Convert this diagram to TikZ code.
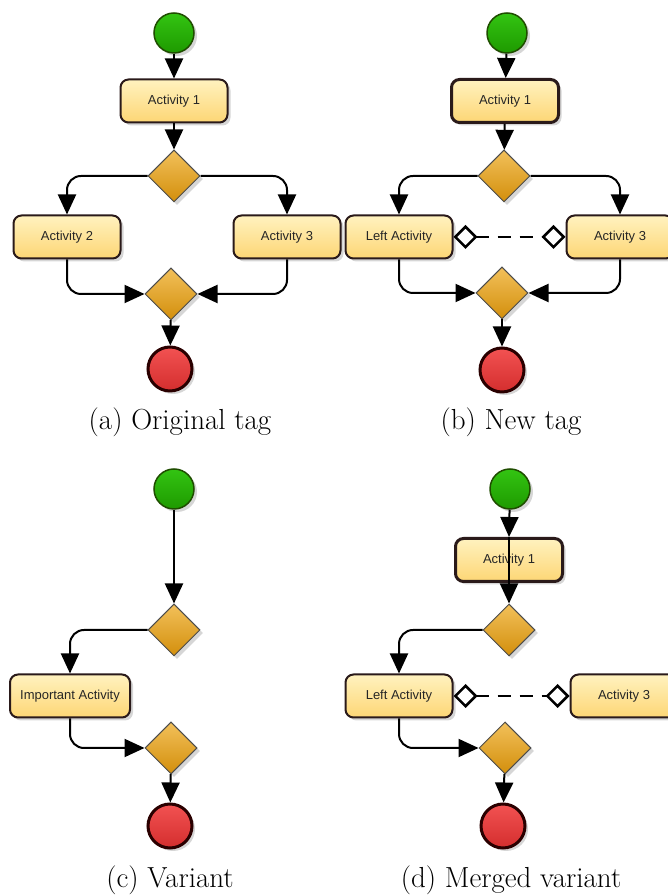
\documentclass[tikz,border=0pt]{standalone}
\usepackage{fontspec}
\newfontfamily\actfont{Liberation Sans}
\usetikzlibrary{shapes.geometric, arrows.meta, shadows}

\definecolor{acttop}{HTML}{FFF2BF}
\definecolor{actbot}{HTML}{FDD675}
\definecolor{boxline}{HTML}{2A1A1A}
\definecolor{dectop}{HTML}{F2C05A}
\definecolor{decbot}{HTML}{D38F0C}
\definecolor{starttop}{HTML}{33C412}
\definecolor{startbot}{HTML}{1E9A00}
\definecolor{startline}{HTML}{1F4D00}
\definecolor{endtop}{HTML}{F25252}
\definecolor{endbot}{HTML}{D42E2E}
\definecolor{endline}{HTML}{2A0000}

\tikzset{
  softshadow/.style={drop shadow={shadow xshift=3pt, shadow yshift=-3pt, opacity=0.16, fill=black}},
  act/.style={rectangle, rounded corners=8pt, draw=boxline, line width=2pt,
    top color=acttop, bottom color=actbot, minimum width=107pt, minimum height=43pt,
    inner sep=2pt, font=\actfont\fontsize{13}{15}\selectfont, text=black!85, softshadow},
  actbold/.style={act, line width=3pt},
  decision/.style={diamond, aspect=1, minimum width=52pt, minimum height=52pt, inner sep=0pt,
    draw=black!70, line width=1pt, top color=dectop, bottom color=decbot, softshadow},
  startnode/.style={circle, minimum size=40pt, inner sep=0pt, draw=startline, line width=1.5pt,
    top color=starttop, bottom color=startbot, softshadow},
  endnode/.style={circle, minimum size=44pt, inner sep=0pt, draw=endline, line width=3pt,
    top color=endtop, bottom color=endbot, softshadow},
  flow/.style={line width=2pt, rounded corners=14pt, -{Triangle[length=20pt,width=18pt]}},
  link/.style={line width=2.5pt, dash pattern=on 13pt off 9pt,
    {Diamond[open,length=24pt,width=24pt]}-{Diamond[open,length=24pt,width=24pt]}},
  caption/.style={font=\fontsize{29}{34}\selectfont, inner sep=0pt}
}

\begin{document}
\begin{tikzpicture}[x=1pt,y=1pt]
\useasboundingbox (0,0) rectangle (668,896);
\begin{scope}
\clip (0,0) rectangle (668,896);

% (a) Original tag
\node[startnode] (a-start) at (174,863) {};
\node[act] (a-act1) at (174,795) {Activity 1};
\node[decision] (a-dec) at (174,720) {};
\node[act] (a-act2) at (67,659) {Activity 2};
\node[act] (a-act3) at (287,659) {Activity 3};
\node[decision] (a-merge) at (171,602) {};
\node[endnode] (a-end) at (170,527) {};
\node[caption] (a-cap) at (180,474) {(a) Original tag};

\draw[flow] (a-start) -- (a-act1);
\draw[flow] (a-act1) -- (a-dec);
\draw[flow] (a-dec.west) -| (a-act2.north);
\draw[flow] (a-dec.east) -| (a-act3.north);
\draw[flow] (a-act2.south) |- (a-merge.west);
\draw[flow] (a-act3.south) |- (a-merge.east);
\draw[flow] (a-merge) -- (a-end);

% (b) New tag
\node[startnode] (b-start) at (507,863) {};
\node[actbold] (b-act1) at (505,795) {Activity 1};
\node[decision] (b-dec) at (504,720) {};
\node[act] (b-left) at (399,659) {Left Activity};
\node[act] (b-act3) at (620,659) {Activity 3};
\node[decision] (b-merge) at (502,603) {};
\node[endnode] (b-end) at (502,526) {};
\node[caption] (b-cap) at (511,474) {(b) New tag};

\draw[flow] (b-start) -- (b-act1);
\draw[flow] (b-act1) -- (b-dec);
\draw[flow] (b-dec.west) -| (b-left.north);
\draw[flow] (b-dec.east) -| (b-act3.north);
\draw[flow] (b-left.south) |- (b-merge.west);
\draw[flow] (b-act3.south) |- (b-merge.east);
\draw[flow] (b-merge) -- (b-end);
\draw[link] (b-left.east) -- (b-act3.west);

% (c) Variant
\node[startnode] (c-start) at (174,407) {};
\node[decision] (c-dec) at (174,266) {};
\node[act, minimum width=120pt] (c-act) at (70,200) {Important Activity};
\node[decision] (c-merge) at (171,148) {};
\node[endnode] (c-end) at (170,70) {};
\node[caption] (c-cap) at (170,16) {(c) Variant};

\draw[flow] (c-start) -- (c-dec);
\draw[flow] (c-dec.west) -| (c-act.north);
\draw[flow] (c-act.south) |- (c-merge.west);
\draw[flow] (c-merge) -- (c-end);

% (d) Merged variant
\node[startnode] (d-start) at (510,407) {};
\node[actbold] (d-act1) at (509,336) {Activity 1};
\node[decision] (d-dec) at (509,266) {};
\node[act] (d-left) at (399,200) {Left Activity};
\node[act] (d-act3) at (624,200) {Activity 3};
\node[decision] (d-merge) at (505,148) {};
\node[endnode] (d-end) at (503,70) {};
\node[caption] (d-cap) at (511,16) {(d) Merged variant};

\draw[flow] (d-start) -- (d-act1.north);
\draw[flow] (d-act1.north) -- (d-dec.north);
\draw[flow] (d-dec.west) -| (d-left.north);
\draw[flow] (d-left.south) |- (d-merge.west);
\draw[flow] (d-merge) -- (d-end);
\draw[link] (d-left.east) -- (d-act3.west);
\end{scope}
\end{tikzpicture}
\end{document}
